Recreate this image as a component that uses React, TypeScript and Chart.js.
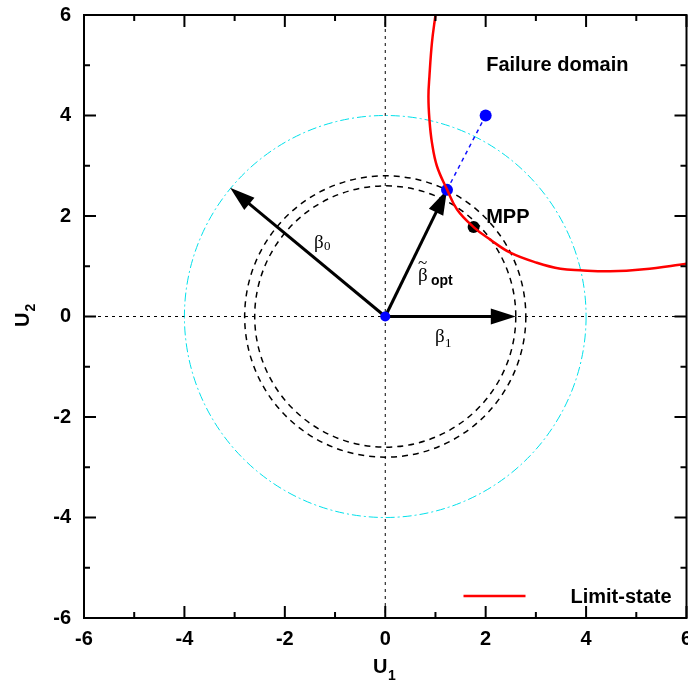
import React, { useEffect, useRef } from 'react';
import { Chart, registerables } from 'chart.js';

Chart.register(...registerables);

// ---- data ----
const limitStateU1 = [1.0, 0.93, 0.88, 0.86, 0.88, 0.93, 1.03, 1.23, 1.43, 1.76, 2.09, 2.49, 3.02, 3.49, 3.88, 4.48, 5.15, 6.0];
const limitStateU2 = [6.0, 5.45, 4.78, 4.38, 3.92, 3.46, 2.99, 2.53, 2.13, 1.78, 1.53, 1.27, 1.07, 0.95, 0.92, 0.9, 0.94, 1.05];
const mppPoint = [1.76, 1.78];
const designPointsU1 = [1.23, 2.0];
const designPointsU2 = [2.52, 4.0];
const originPoint = [0, 0];
const beta0Tip = [-3.09, 2.56];
const betaOptTip = [1.23, 2.52];
const beta1Tip = [2.6, 0];
const cyanCircleRadius = 4;
const dashedCircleRadii = [2.6, 2.8];
const axisMin = -6;
const axisMax = 6;
const majorStep = 2;
const minorTickValues = [-6, -5, -4, -3, -2, -1, 0, 1, 2, 3, 4, 5, 6];

const SANS = '"Liberation Sans", Arial, sans-serif';
const SERIF = '"Liberation Serif", "Times New Roman", serif';

const overlayPlugin = {
  id: 'overlay',
  beforeDatasetsDraw(chart: any) {
    const { ctx, chartArea: a, scales } = chart;
    const xs = scales.x;
    const ys = scales.y;
    const px = (v: number) => xs.getPixelForValue(v);
    const py = (v: number) => ys.getPixelForValue(v);
    ctx.save();
    ctx.beginPath();
    ctx.rect(a.left, a.top, a.right - a.left, a.bottom - a.top);
    ctx.clip();

    const line = (x0: number, y0: number, x1: number, y1: number) => {
      ctx.beginPath();
      ctx.moveTo(x0, y0);
      ctx.lineTo(x1, y1);
      ctx.stroke();
    };

    // dashed coordinate axes
    ctx.strokeStyle = '#000';
    ctx.lineWidth = 1;
    ctx.setLineDash([3, 4]);
    line(px(0), a.top, px(0), a.bottom);
    line(a.left, py(0), a.right, py(0));

    const cx = px(originPoint[0]);
    const cy = py(originPoint[1]);

    // cyan dash-dot circle
    ctx.strokeStyle = '#00e0ea';
    ctx.lineWidth = 1;
    ctx.setLineDash([9, 3, 2, 3]);
    ctx.beginPath();
    ctx.ellipse(cx, cy, px(cyanCircleRadius) - cx, cy - py(cyanCircleRadius), 0, 0, Math.PI * 2);
    ctx.stroke();

    // black dashed circles
    ctx.strokeStyle = '#000';
    ctx.lineWidth = 1.5;
    ctx.setLineDash([6, 5]);
    dashedCircleRadii.forEach((r) => {
      ctx.beginPath();
      ctx.ellipse(cx, cy, px(r) - cx, cy - py(r), 0, 0, Math.PI * 2);
      ctx.stroke();
    });

    // arrows
    ctx.setLineDash([]);
    const arrow = (tip: number[]) => {
      const tx = px(tip[0]);
      const ty = py(tip[1]);
      const dx = tx - cx;
      const dy = ty - cy;
      const len = Math.hypot(dx, dy);
      const ux = dx / len;
      const uy = dy / len;
      const head = 25;
      const hw = 8;
      const bx = tx - ux * head;
      const by = ty - uy * head;
      ctx.strokeStyle = '#000';
      ctx.lineWidth = 3;
      line(cx, cy, bx + ux * 2, by + uy * 2);
      ctx.fillStyle = '#000';
      ctx.beginPath();
      ctx.moveTo(tx, ty);
      ctx.lineTo(bx - uy * hw, by + ux * hw);
      ctx.lineTo(bx + uy * hw, by - ux * hw);
      ctx.closePath();
      ctx.fill();
    };
    arrow(beta0Tip);
    arrow(betaOptTip);
    arrow(beta1Tip);
    ctx.restore();
  },
  afterDraw(chart: any) {
    const { ctx, chartArea: a, scales } = chart;
    const xs = scales.x;
    const ys = scales.y;
    const px = (v: number) => xs.getPixelForValue(v);
    const py = (v: number) => ys.getPixelForValue(v);
    ctx.save();
    ctx.setLineDash([]);

    // frame
    ctx.strokeStyle = '#000';
    ctx.lineWidth = 2;
    ctx.strokeRect(a.left, a.top, a.right - a.left, a.bottom - a.top);

    // inward ticks on all four sides
    minorTickValues.forEach((v) => {
      const len = v % majorStep === 0 ? 12 : 6;
      const x = px(v);
      const y = py(v);
      ctx.beginPath();
      ctx.moveTo(x, a.bottom);
      ctx.lineTo(x, a.bottom - len);
      ctx.moveTo(x, a.top);
      ctx.lineTo(x, a.top + len);
      ctx.moveTo(a.left, y);
      ctx.lineTo(a.left + len, y);
      ctx.moveTo(a.right, y);
      ctx.lineTo(a.right - len, y);
      ctx.stroke();
    });

    ctx.fillStyle = '#000';
    ctx.textBaseline = 'alphabetic';
    ctx.textAlign = 'left';

    // annotations
    ctx.font = `bold 20px ${SANS}`;
    ctx.fillText('Failure domain', px(2.01), py(4.88));
    ctx.fillText('MPP', px(2.01), py(1.87));

    // beta labels
    ctx.font = `19px ${SERIF}`;
    ctx.fillText('β', px(-1.42), py(1.363));
    ctx.font = `13px ${SERIF}`;
    ctx.fillText('0', px(-1.42) + 10, py(1.363) + 2);

    ctx.font = `19px ${SERIF}`;
    ctx.fillText('β', px(0.99), py(-0.507));
    ctx.font = `13px ${SERIF}`;
    ctx.fillText('1', px(0.99) + 10, py(-0.507) + 5);

    ctx.font = `19px ${SERIF}`;
    const bx = px(0.652);
    const by = py(0.706);
    ctx.fillText('β', bx, by);
    ctx.font = `17px ${SERIF}`;
    ctx.fillText('~', bx, by - 13);
    ctx.font = `bold 14px ${SANS}`;
    ctx.fillText('opt', bx + 13, by + 4);

    // legend
    ctx.strokeStyle = '#ff0000';
    ctx.lineWidth = 2.5;
    ctx.beginPath();
    ctx.moveTo(a.right - 223, a.bottom - 22);
    ctx.lineTo(a.right - 161, a.bottom - 22);
    ctx.stroke();
    ctx.font = `bold 20px ${SANS}`;
    ctx.fillText('Limit-state', a.right - 116, a.bottom - 15);

    // axis titles
    ctx.font = `bold 20px ${SANS}`;
    ctx.fillText('U', 373, 673);
    ctx.font = `bold 14px ${SANS}`;
    ctx.fillText('1', 388, 680);

    ctx.save();
    ctx.translate(29, 327);
    ctx.rotate(-Math.PI / 2);
    ctx.font = `bold 20px ${SANS}`;
    ctx.fillText('U', 0, 0);
    const uw = ctx.measureText('U').width;
    ctx.font = `bold 14px ${SANS}`;
    ctx.fillText('2', uw + 1, 6);
    ctx.restore();

    ctx.restore();
  },
};

const zeroPadding = (s: any) => {
  s.paddingTop = 0;
  s.paddingBottom = 0;
  s.paddingLeft = 0;
  s.paddingRight = 0;
};

export default function App() {
  const canvasRef = useRef<HTMLCanvasElement | null>(null);

  useEffect(() => {
    if (!canvasRef.current) return;
    const limitData = limitStateU1.map((u, i) => ({ x: u, y: limitStateU2[i] }));
    const designData = designPointsU1.map((u, i) => ({ x: u, y: designPointsU2[i] }));
    const tickFont = { family: SANS, size: 20, weight: 'bold' as const };

    const chart = new Chart(canvasRef.current, {
      type: 'scatter',
      data: {
        datasets: [
          {
            label: 'Limit-state',
            data: limitData,
            showLine: true,
            borderColor: '#ff0000',
            borderWidth: 2.5,
            pointRadius: 0,
            tension: 0.4,
            fill: false,
          },
          {
            label: 'design',
            data: designData,
            showLine: true,
            borderColor: '#1010ff',
            borderWidth: 1.5,
            borderDash: [4, 4],
            pointRadius: 6,
            pointBackgroundColor: '#0000ff',
            pointBorderColor: '#0000ff',
            pointBorderWidth: 0,
          },
          {
            label: 'MPP',
            data: [{ x: mppPoint[0], y: mppPoint[1] }],
            pointRadius: 6,
            pointBackgroundColor: '#000',
            pointBorderColor: '#000',
            pointBorderWidth: 0,
          },
          {
            label: 'origin',
            data: [{ x: originPoint[0], y: originPoint[1] }],
            pointRadius: 5,
            pointBackgroundColor: '#0000ff',
            pointBorderColor: '#0000ff',
            pointBorderWidth: 0,
          },
        ],
      },
      options: {
        animation: false,
        responsive: true,
        maintainAspectRatio: false,
        layout: { autoPadding: false, padding: { top: 15, right: 1.5, left: 0, bottom: 0 } },
        plugins: { legend: { display: false }, tooltip: { enabled: false } },
        events: [],
        scales: {
          x: {
            type: 'linear',
            min: axisMin,
            max: axisMax,
            grid: { display: false, drawTicks: false },
            border: { display: false },
            ticks: { stepSize: majorStep, font: tickFont, color: '#000', padding: 9, maxRotation: 0 },
            afterFit: (s: any) => {
              s.height = 66;
              zeroPadding(s);
            },
          },
          y: {
            type: 'linear',
            min: axisMin,
            max: axisMax,
            grid: { display: false, drawTicks: false },
            border: { display: false },
            ticks: { stepSize: majorStep, font: tickFont, color: '#000', padding: 13 },
            afterFit: (s: any) => {
              s.width = 84;
              zeroPadding(s);
            },
          },
        },
      } as any,
      plugins: [overlayPlugin],
    });
    return () => chart.destroy();
  }, []);

  return (
    <div style={{ position: 'absolute', left: 0, top: 0, width: 688, height: 684, background: '#fff' }}>
      <canvas ref={canvasRef} style={{ display: 'block' }} />
    </div>
  );
}
